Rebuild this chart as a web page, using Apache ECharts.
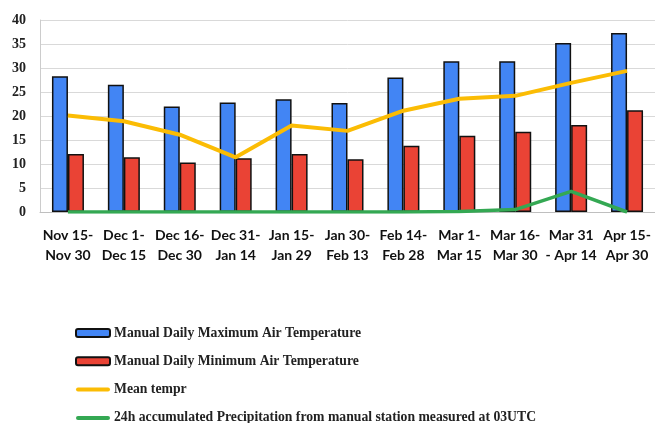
<!DOCTYPE html>
<html>
<head>
<meta charset="utf-8">
<script src="https://cdn.jsdelivr.net/npm/echarts@6/dist/echarts.min.js"></script>
<style>
  html, body { margin: 0; padding: 0; background: #fff; }
  #chart { width: 655px; height: 423px; }
</style>
</head>
<body>
<div id="chart"></div>
<script>
// Fortnightly periods (two-line axis labels)
const periodStart = ['Nov 15-', 'Dec 1-', 'Dec 16-', 'Dec 31-', 'Jan 15-', 'Jan 30-', 'Feb 14-', 'Mar 1-', 'Mar 16-', 'Mar 31', 'Apr 15-'];
const periodEnd   = ['Nov 30', 'Dec 15', 'Dec 30', 'Jan 14', 'Jan 29', 'Feb 13', 'Feb 28', 'Mar 15', 'Mar 30', '- Apr 14', 'Apr 30'];

// Series values
const maxTemp  = [28.3, 26.5, 22.0, 22.8, 23.5, 22.7, 28.0, 31.4, 31.4, 35.2, 37.3];
const minTemp  = [12.1, 11.4, 10.3, 11.2, 12.1, 11.0, 13.8, 15.9, 16.7, 18.1, 21.2];
const meanTemp = [20.1, 18.9, 16.1, 11.4, 18.0, 16.9, 21.1, 23.6, 24.2, 26.9, 29.4];
const precip   = [0, 0, 0, 0, 0, 0, 0, 0.1, 0.5, 4.3, 0];

// Y axis scale
const yMin = 0, yMax = 40, yStep = 5;

const seriesNames = [
  'Manual Daily Maximum Air Temperature',
  'Manual Daily Minimum Air Temperature',
  'Mean tempr',
  '24h accumulated Precipitation from manual station measured at 03UTC'
];

const categories = periodStart.map((s, i) => s + '\n' + periodEnd[i]);

// Thin rounded stroke used as the legend key for the line series
const lineKey = 'path://M2,0 L32,0 A2,2 0 0 1 32,4 L2,4 A2,2 0 0 1 2,0 Z';

const chart = echarts.init(document.getElementById('chart'), null, { renderer: 'canvas' });

const serif = '"Liberation Serif", "Times New Roman", serif';

chart.setOption({
  animation: false,
  backgroundColor: '#ffffff',
  grid: { left: 40, top: 20, width: 617, bottom: 211, containLabel: false },
  legend: {
    orient: 'vertical',
    left: 75,
    top: 326,
    height: 120,
    padding: 0,
    itemWidth: 34,
    itemHeight: 8,
    itemGap: 14.3,
    textStyle: { fontFamily: serif, fontWeight: 'bold', fontSize: 13.7, color: '#222', lineHeight: 14, padding: [0, 0, 0, -1] },
    data: [
      { name: seriesNames[0], icon: 'roundRect' },
      { name: seriesNames[1], icon: 'roundRect' },
      { name: seriesNames[2], icon: lineKey },
      { name: seriesNames[3], icon: lineKey }
    ]
  },
  xAxis: {
    type: 'category',
    data: categories,
    axisTick: { show: false },
    axisLine: { lineStyle: { color: '#bfbfbf', width: 1 } },
    axisLabel: {
      interval: 0,
      margin: 13,
      fontFamily: 'Lato, "Open Sans", sans-serif',
      fontWeight: 'bold',
      fontSize: 14,
      lineHeight: 20,
      color: '#111'
    }
  },
  yAxis: {
    type: 'value',
    min: yMin, max: yMax, interval: yStep,
    axisLine: { show: true, lineStyle: { color: '#cccccc' } },
    axisTick: { show: false },
    splitLine: { lineStyle: { color: '#d9d9d9', width: 1 } },
    axisLabel: { margin: 14, fontFamily: serif, fontWeight: 'bold', fontSize: 14, color: '#222' }
  },
  series: [
    {
      name: seriesNames[0], type: 'bar', data: maxTemp,
      barWidth: 16, barGap: '0%',
      itemStyle: { color: '#4285F4', borderColor: '#111', borderWidth: 1.5 }
    },
    {
      name: seriesNames[1], type: 'bar', data: minTemp,
      barWidth: 16, barGap: '0%',
      itemStyle: { color: '#EA4335', borderColor: '#111', borderWidth: 1.5 }
    },
    {
      name: seriesNames[2], type: 'line', data: meanTemp,
      symbol: 'none', z: 5,
      lineStyle: { color: '#FBBC04', width: 4 },
      itemStyle: { color: '#FBBC04' }
    },
    {
      name: seriesNames[3], type: 'line', data: precip,
      symbol: 'none', z: 6,
      lineStyle: { color: '#34A853', width: 3.5 },
      itemStyle: { color: '#34A853' }
    }
  ]
});
</script>
</body>
</html>
